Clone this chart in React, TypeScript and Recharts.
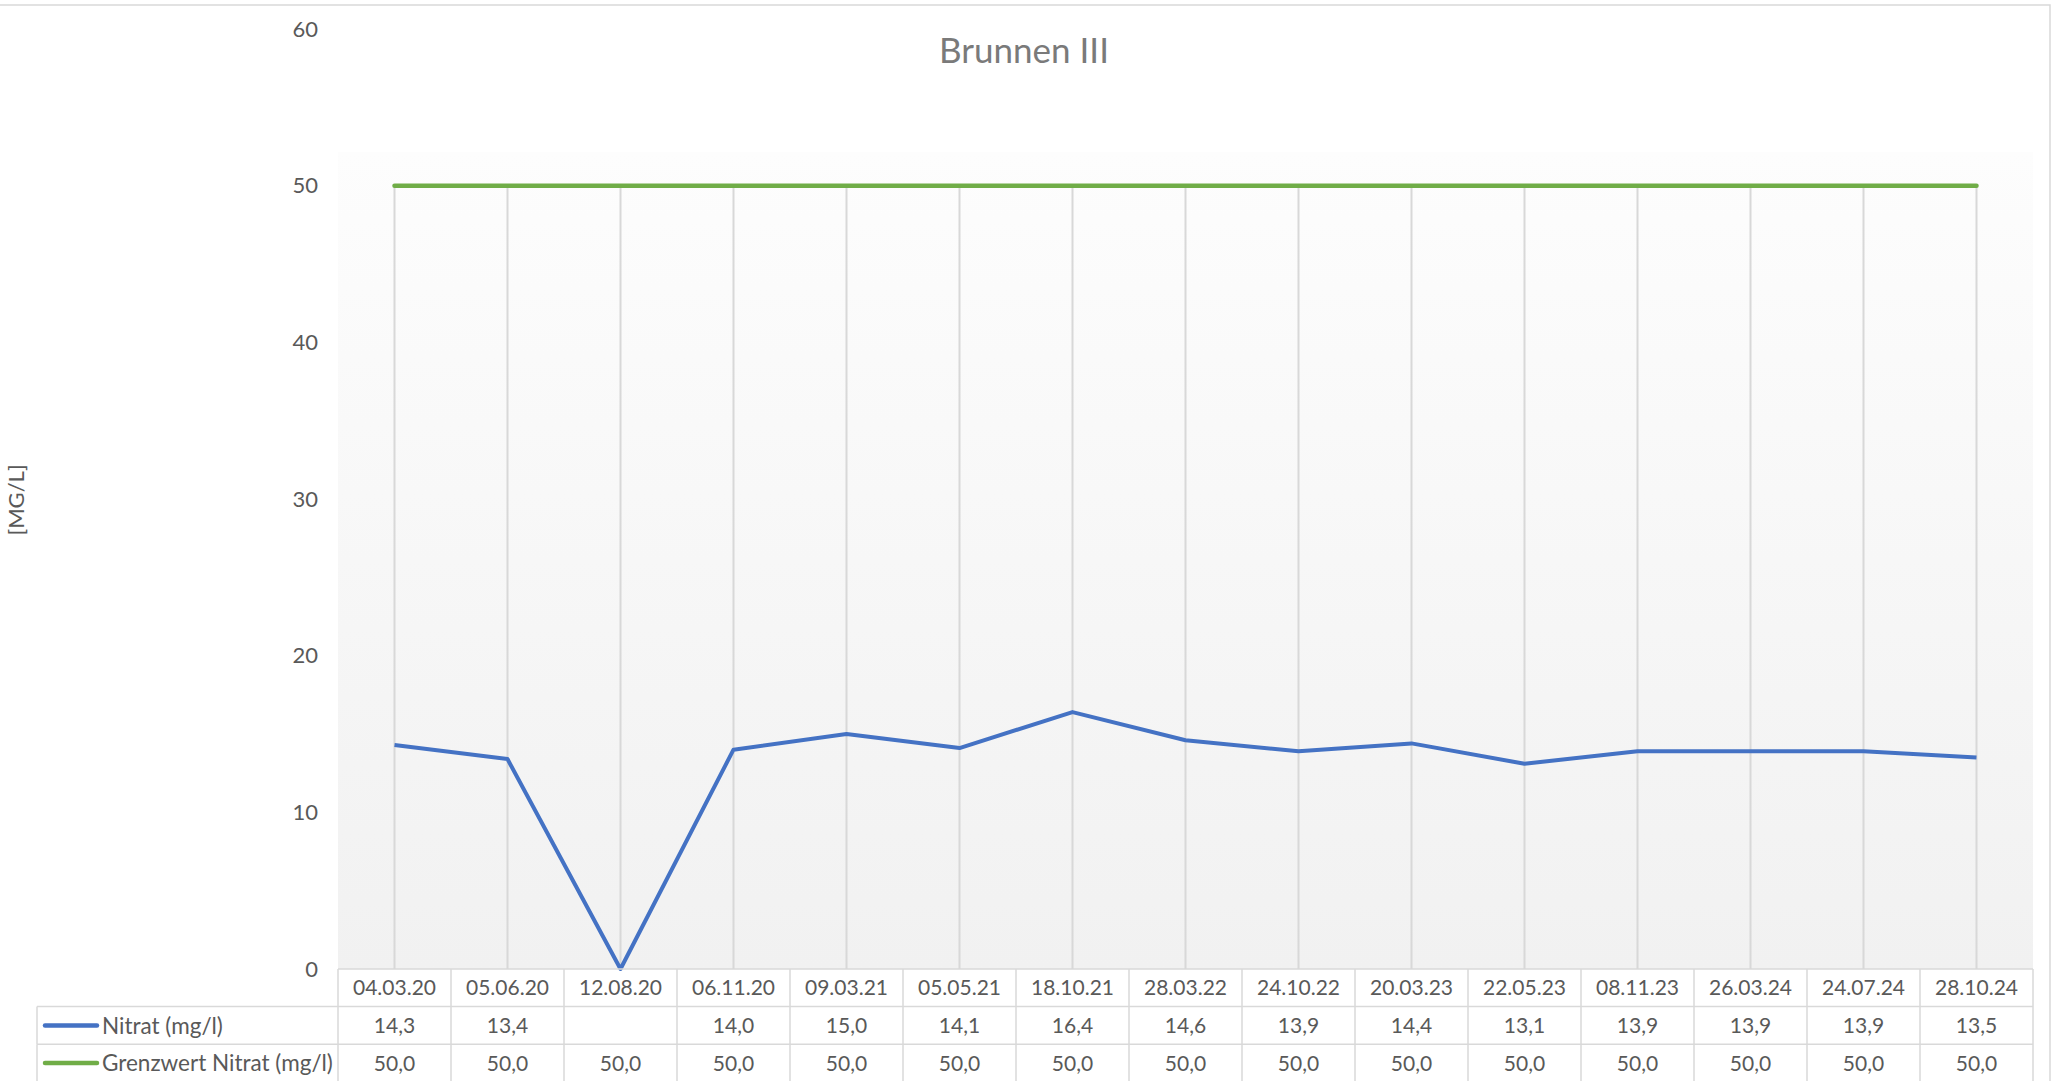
import { LineChart, Line, XAxis, YAxis, ReferenceLine } from "recharts";

const dates = [
  "04.03.20", "05.06.20", "12.08.20", "06.11.20", "09.03.21", "05.05.21", "18.10.21", "28.03.22",
  "24.10.22", "20.03.23", "22.05.23", "08.11.23", "26.03.24", "24.07.24", "28.10.24",
];
const nitrat: (number | null)[] = [14.3, 13.4, null, 14.0, 15.0, 14.1, 16.4, 14.6, 13.9, 14.4, 13.1, 13.9, 13.9, 13.9, 13.5];
const grenzwert = [50, 50, 50, 50, 50, 50, 50, 50, 50, 50, 50, 50, 50, 50, 50];
const yTicks = [0, 10, 20, 30, 40, 50, 60];

const seriesNames = ["Nitrat (mg/l)", "Grenzwert Nitrat (mg/l)"];
const seriesColors = ["#4472C4", "#70AD47"];

// Excel plots the empty cell as zero, the table still shows it blank
const data = dates.map((d, i) => ({
  date: d,
  nitrat: nitrat[i] ?? 0,
  grenzwert: grenzwert[i],
}));

const FONT = "Lato, 'Open Sans', sans-serif";
const TEXT = "#595959";
const BORDER = "#d9d9d9";
const ROW = 37.6;
const HALF = 56.5;

const fmt = (v: number | null) => (v == null ? "" : v.toFixed(1).replace(".", ","));

interface TickProps {
  x?: number;
  y?: number;
  index?: number;
  payload?: { value?: string; index?: number };
}

const renderTableTick = ({ x = 0, y = 0, payload, index }: TickProps) => {
  const i = payload?.index ?? index ?? 0;
  const rows = [payload?.value ?? "", fmt(nitrat[i]), fmt(grenzwert[i])];
  const last = i === dates.length - 1;
  return (
    <g>
      {[0, 1, 2].map((r) => (
        <line key={`h${r}`} x1={x - HALF} x2={x + HALF} y1={y + r * ROW} y2={y + r * ROW} stroke={BORDER} strokeWidth={1.5} />
      ))}
      <line x1={x - HALF} x2={x - HALF} y1={y} y2={y + 3 * ROW} stroke={BORDER} strokeWidth={1.5} />
      {last && <line x1={x + HALF} x2={x + HALF} y1={y} y2={y + 3 * ROW} stroke={BORDER} strokeWidth={1.5} />}
      {rows.map((t, r) => (
        <text key={`t${r}`} x={x} y={y + r * ROW + ROW / 2} dy="0.36em" textAnchor="middle" fill={TEXT} fontSize={21} fontFamily={FONT}>
          {t}
        </text>
      ))}
    </g>
  );
};

export default function App() {
  return (
    <div style={{ position: "absolute", left: 0, top: 0, width: 2056, height: 1081, background: "#fff", overflow: "hidden" }}>
      {/* plot area fill, Excel starts it a bit below the axis maximum */}
      <div
        style={{
          position: "absolute",
          left: 338,
          top: 152,
          width: 1695,
          height: 817,
          background: "linear-gradient(to bottom, #fdfdfd, #f1f1f1)",
        }}
      />
      <div style={{ position: "absolute", left: 0, top: 0 }}>
        <LineChart width={2056} height={1081} data={data} margin={{ top: 29, right: 23, left: 0, bottom: 0 }}>
          <XAxis
            dataKey="date"
            type="category"
            interval={0}
            padding={{ left: HALF, right: HALF }}
            axisLine={false}
            tickLine={false}
            tickSize={0}
            tickMargin={0}
            height={112}
            tick={renderTableTick}
          />
          <YAxis
            type="number"
            domain={[0, 60]}
            ticks={yTicks}
            width={338}
            axisLine={false}
            tickLine={false}
            tickSize={0}
            tickMargin={20}
            tick={{ fill: TEXT, fontSize: 22, fontFamily: FONT }}
          />
          {data.map((d) => (
            <ReferenceLine
              key={d.date}
              segment={[{ x: d.date, y: 0 }, { x: d.date, y: Math.max(d.nitrat, d.grenzwert) }]}
              stroke="#d8d8d8"
              strokeWidth={2}
            />
          ))}
          <Line dataKey="nitrat" stroke={seriesColors[0]} strokeWidth={4} dot={false} strokeLinejoin="round" isAnimationActive={false} />
          <Line dataKey="grenzwert" stroke={seriesColors[1]} strokeWidth={4.5} dot={false} strokeLinecap="round" isAnimationActive={false} />
        </LineChart>
      </div>
      <svg width={2056} height={1081} style={{ position: "absolute", left: 0, top: 0, pointerEvents: "none" }}>
        <rect x={-4} y={5} width={2054} height={1100} fill="none" stroke={BORDER} strokeWidth={1.5} />
        <text x={1024} y={50} dy="0.36em" textAnchor="middle" fill="#7a7a7a" fontSize={35} fontFamily={FONT}>
          Brunnen III
        </text>
        <text transform="translate(16,500) rotate(-90)" dy="0.36em" textAnchor="middle" fill={TEXT} fontSize={22} fontFamily={FONT}>
          [MG/L]
        </text>
        {seriesNames.map((name, r) => {
          const top = 969 + (r + 1) * ROW;
          const cy = top + ROW / 2;
          return (
            <g key={name}>
              <line x1={37} x2={338} y1={top} y2={top} stroke={BORDER} strokeWidth={1.5} />
              <line x1={37} x2={37} y1={top} y2={top + ROW} stroke={BORDER} strokeWidth={1.5} />
              <line x1={45} x2={97} y1={cy} y2={cy} stroke={seriesColors[r]} strokeWidth={4.5} strokeLinecap="round" />
              <text x={102} y={cy} dy="0.36em" fill={TEXT} fontSize={22.5} fontFamily={FONT}>
                {name}
              </text>
            </g>
          );
        })}
      </svg>
    </div>
  );
}
